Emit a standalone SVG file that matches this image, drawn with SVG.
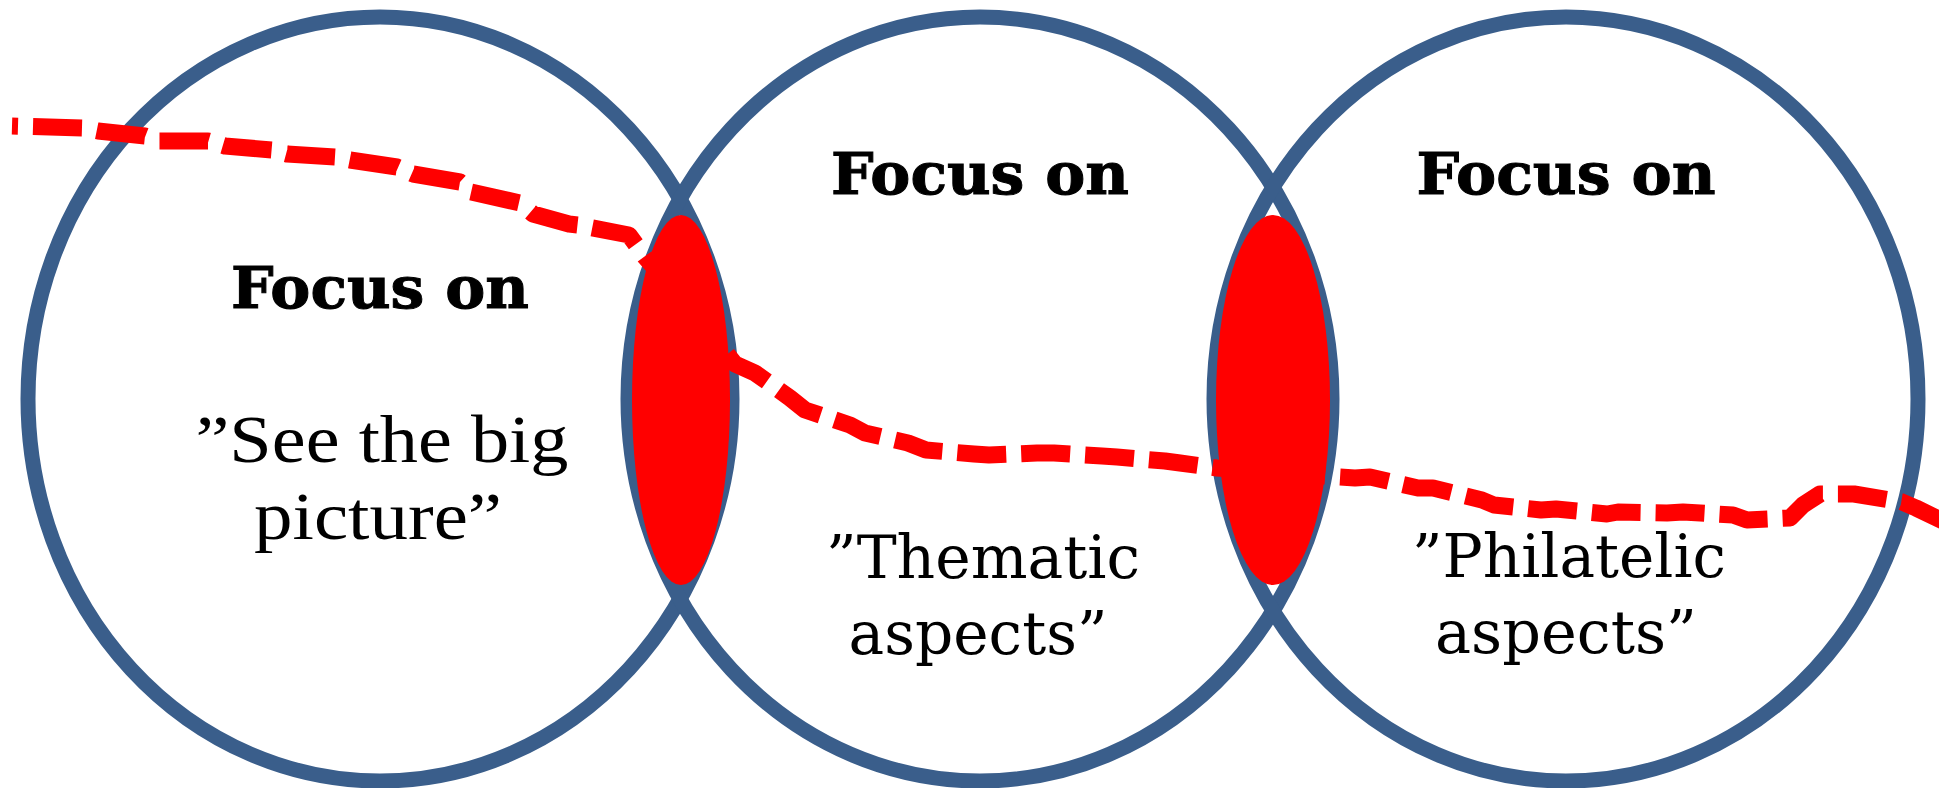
<svg xmlns="http://www.w3.org/2000/svg" width="1939" height="788" viewBox="0 0 1939 788">
<style>
.ring{fill:none;stroke:#3A5E8B;stroke-width:15}
.lens{fill:#FF0000;stroke:none}
.head{font-family:"DejaVu Serif",serif;font-weight:bold;font-size:58px;fill:#000;text-anchor:middle;stroke:#000;stroke-width:1}
.q1{font-family:"Liberation Serif",serif;font-size:68px;fill:#000;text-anchor:middle}
.q2{font-family:"DejaVu Serif",serif;font-size:60px;fill:#000;text-anchor:middle}
.path{fill:none;stroke:#FF0000;stroke-width:17;stroke-dasharray:49 15;stroke-dashoffset:43;stroke-linejoin:round}
</style>
<rect x="0" y="0" width="1939" height="788" fill="#FFFFFF"/>
<g id="circle-big-picture">
<ellipse class="ring" cx="380" cy="399" rx="352" ry="382"/>
<text class="head" x="380" y="308" textLength="298" lengthAdjust="spacingAndGlyphs">Focus on</text>
<text class="q1" x="382" y="462" textLength="373" lengthAdjust="spacingAndGlyphs">”See the big</text>
<text class="q1" x="378" y="539" textLength="248" lengthAdjust="spacingAndGlyphs">picture”</text>
</g>
<g id="circle-thematic">
<ellipse class="ring" cx="980" cy="399" rx="352" ry="382"/>
<text class="head" x="980" y="194" textLength="298" lengthAdjust="spacingAndGlyphs">Focus on</text>
<text class="q2" x="983" y="578" textLength="314" lengthAdjust="spacingAndGlyphs">”Thematic</text>
<text class="q2" x="978" y="654" textLength="259" lengthAdjust="spacingAndGlyphs">aspects”</text>
</g>
<g id="circle-philatelic">
<ellipse class="ring" cx="1566" cy="399" rx="352" ry="382"/>
<text class="head" x="1566" y="194" textLength="299" lengthAdjust="spacingAndGlyphs">Focus on</text>
<text class="q2" x="1569" y="577" textLength="314" lengthAdjust="spacingAndGlyphs">”Philatelic</text>
<text class="q2" x="1566" y="653" textLength="262" lengthAdjust="spacingAndGlyphs">aspects”</text>
</g>
<g id="overlap-left">
<ellipse class="lens" cx="681" cy="400" rx="49" ry="185"/>
</g>
<g id="overlap-right">
<ellipse class="lens" cx="1273" cy="400" rx="57" ry="185"/>
</g>
<g id="connectors">
<path class="path" d="M12,126 L83,128 L98,131 L145,136 L158,141 L208,141 L225,146 L272,150 L287,154 L335,157 L350,160 L397,167 L413,174 L460,182 L471,192 L520,203 L533,214 L569,224 L578,225 L629,235 L645,257 L700,320 L735,364 L755,373 L790,398 L805,410 L850,425 L865,433 L908,443 L926,450 L974,454 L989,455 L1037,453 L1054,453 L1102,456 L1117,457 L1165,461 L1180,463 L1217,468 L1323,476 L1355,478 L1370,477 L1418,488 L1433,488 L1482,500 L1494,505 L1541,510 L1556,509 L1607,514 L1618,512 L1667,513 L1683,512 L1733,515 L1747,520 L1790,518 L1803,505 L1820,494 L1839,494 L1854,494 L1902,502 L1916,508 L1945,522"/>
</g>
</svg>
